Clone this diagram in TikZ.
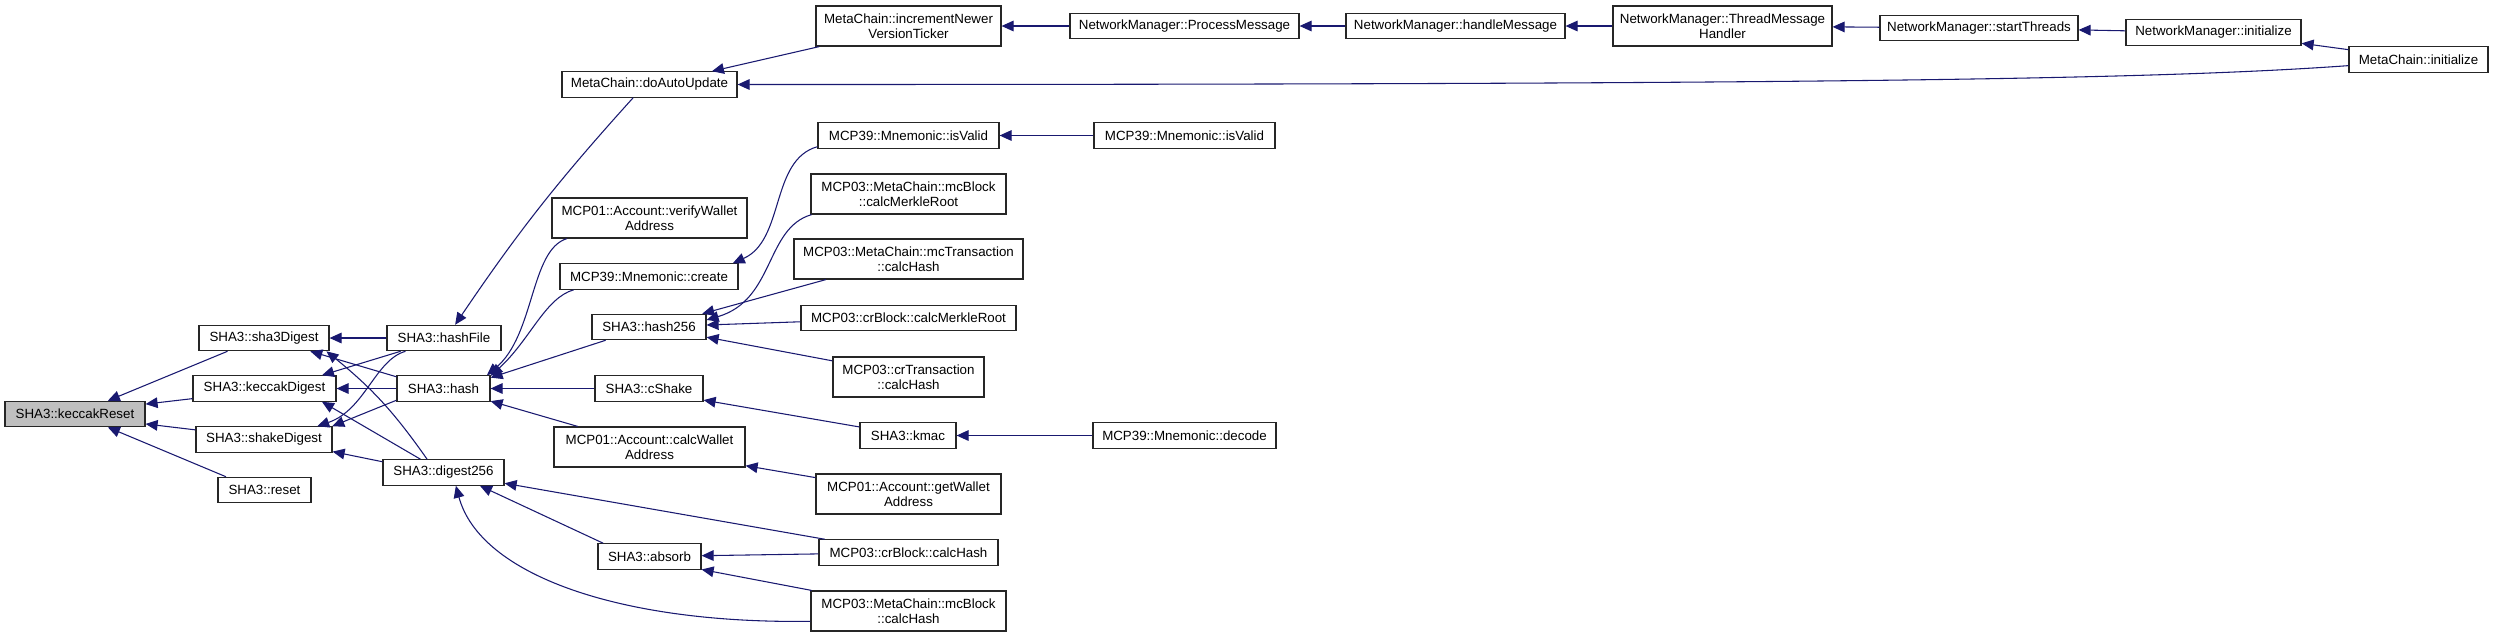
\documentclass[tikz,border=0pt]{standalone}
\usepackage{fontspec}
\setmainfont{Liberation Sans}
\usetikzlibrary{arrows.meta}
\definecolor{edgeblue}{HTML}{191970}

\tikzset{
    fn/.style={draw=black!85, line width=0.9pt, fill=white, inner sep=1pt, align=center},
    lineone/.style={minimum height=19pt},
    linetwo/.style={minimum height=30pt},
    call/.style={draw=edgeblue, line width=0.8pt, -{Triangle[length=9pt, width=8pt]}}
}

\begin{document}
\begin{tikzpicture}[x=0.75pt, y=-0.75pt,
    every node/.style={font=\fontsize{10}{11.5}\selectfont}]

    % Keep the page the size of the original graph
    \useasboundingbox (0,0) rectangle (2493,637);

    % Column 0: the function itself
    \node[fn, fill=gray!50, lineone, minimum width=105pt] (keccakReset) at (75,414) {SHA3::keccakReset};

    % Column 1
    \node[fn, lineone, minimum width=97.5pt] (sha3Digest) at (264,338) {SHA3::sha3Digest};
    \node[fn, lineone, minimum width=107.25pt] (keccakDigest) at (264.5,388.5) {SHA3::keccakDigest};
    \node[fn, lineone, minimum width=102pt] (shakeDigest) at (264,439.5) {SHA3::shakeDigest};
    \node[fn, lineone, minimum width=69.75pt] (reset) at (264.5,490) {SHA3::reset};

    % Column 2
    \node[fn, lineone, minimum width=85.5pt] (hashFile) at (444,338) {SHA3::hashFile};
    \node[fn, lineone, minimum width=69.75pt] (hash) at (443.5,388.5) {SHA3::hash};
    \node[fn, lineone, minimum width=90.75pt] (digest) at (443.5,472.5) {SHA3::digest256};

    % Column 3
    \node[fn, lineone, minimum width=131.25pt] (autoUpdate) at (649.5,84.5) {MetaChain::doAutoUpdate};
    \node[fn, linetwo, minimum width=146.25pt] (verifyAddr) at (649.5,218) {MCP01::Account::verifyWallet\\Address};
    \node[fn, lineone, minimum width=133.5pt] (create) at (649,276.5) {MCP39::Mnemonic::create};
    \node[fn, lineone, minimum width=85.5pt] (hash256) at (649,327) {SHA3::hash256};
    \node[fn, lineone, minimum width=81pt] (cShake) at (649,388.5) {SHA3::cShake};
    \node[fn, linetwo, minimum width=143.25pt] (calcAddr) at (649.5,447) {MCP01::Account::calcWallet\\Address};
    \node[fn, lineone, minimum width=77.25pt] (absorb) at (649.5,556.5) {SHA3::absorb};

    % Column 4
    \node[fn, linetwo, minimum width=138.75pt] (incNewer) at (908.5,26) {MetaChain::incrementNewer\\VersionTicker};
    \node[fn, lineone, minimum width=135.75pt] (isValidA) at (908.5,135.5) {MCP39::Mnemonic::isValid};
    \node[fn, linetwo, minimum width=146.25pt] (mcMerkle) at (908.5,194) {MCP03::MetaChain::mcBlock\\::calcMerkleRoot};
    \node[fn, linetwo, minimum width=171.75pt] (mcTrans) at (908.5,259) {MCP03::MetaChain::mcTransaction\\::calcHash};
    \node[fn, lineone, minimum width=161.25pt] (crMerkle) at (908.5,318) {MCP03::crBlock::calcMerkleRoot};
    \node[fn, linetwo, minimum width=113.25pt] (crTrans) at (908.5,377) {MCP03::crTransaction\\::calcHash};
    \node[fn, lineone, minimum width=72pt] (kmac) at (908,435.5) {SHA3::kmac};
    \node[fn, linetwo, minimum width=138.75pt] (getAddr) at (908.5,494) {MCP01::Account::getWallet\\Address};
    \node[fn, lineone, minimum width=134.25pt] (crHash) at (908.5,552.5) {MCP03::crBlock::calcHash};
    \node[fn, linetwo, minimum width=146.25pt] (mcHash) at (908.5,611) {MCP03::MetaChain::mcBlock\\::calcHash};

    % Column 5
    \node[fn, lineone, minimum width=171.75pt] (procMsg) at (1184.5,26) {NetworkManager::ProcessMessage};
    \node[fn, lineone, minimum width=135.75pt] (isValidB) at (1184.5,135.5) {MCP39::Mnemonic::isValid};
    \node[fn, lineone, minimum width=137.25pt] (decode) at (1184.5,435.5) {MCP39::Mnemonic::decode};

    % Columns 6 to 9
    \node[fn, lineone, minimum width=164.25pt] (handleMsg) at (1455.5,26) {NetworkManager::handleMessage};
    \node[fn, linetwo, minimum width=164.25pt] (threadMsg) at (1722.5,26) {NetworkManager::ThreadMessage\\Handler};
    \node[fn, lineone, minimum width=148.5pt] (startThreads) at (1979,28) {NetworkManager::startThreads};
    \node[fn, lineone, minimum width=131.25pt] (nmInit) at (2213.5,32.5) {NetworkManager::initialize};
    \node[fn, lineone, minimum width=104.25pt] (mcInit) at (2418.5,59.5) {MetaChain::initialize};

    % Callers of keccakReset
    \draw[call] (sha3Digest.200) -- (keccakReset.22);
    \draw[call] (keccakDigest.188) -- (keccakReset.8);
    \draw[call] (shakeDigest.172) -- (keccakReset.352);
    \draw[call] (reset.161) -- (keccakReset.338);

    % Callers of the digest functions
    \draw[call] (hashFile) -- (sha3Digest);
    \draw[call] (hash.166) -- (sha3Digest.344);
    \draw[call] (digest.141) to[bend right=8] (sha3Digest.348);
    \draw[call] (hashFile.197) -- (keccakDigest.13);
    \draw[call] (hash) -- (keccakDigest);
    \draw[call] (digest.150) -- (keccakDigest.347);
    \draw[call] (hashFile.199) .. controls (375,360) and (365,410) .. (shakeDigest.14);
    \draw[call] (hash.194) -- (shakeDigest.11);
    \draw[call] (digest.170) -- (shakeDigest.350);

    % Callers of hashFile, hash and digest256
    \draw[call] (autoUpdate.219) to[bend right=4] (hashFile.50);
    \draw[call] (verifyAddr.194) .. controls (530,250) and (535,335) .. (hash.17);
    \draw[call] (create.190) .. controls (545,298) and (530,340) .. (hash.15);
    \draw[call] (hash256.197) -- (hash.13);
    \draw[call] (cShake) -- (hash);
    \draw[call] (calcAddr.164) -- (hash.345);
    \draw[call] (crHash.171) -- (digest.350);
    \draw[call] (absorb.164) -- (digest.340);
    \draw[call] (mcHash.186) .. controls (620,624) and (480,575) .. (digest.313);

    % Third level
    \draw[call] (incNewer.193) -- (autoUpdate.12);
    \draw[call] (mcInit.185) .. controls (2150,80) and (1800,84.5) .. (autoUpdate.east);
    \draw[call] (isValidA.187) .. controls (770,160) and (785,240) .. (create.9.5);
    \draw[call] (mcMerkle.192) .. controls (765,228) and (775,300) .. (hash256.7);
    \draw[call] (mcTrans.194) -- (hash256.14);
    \draw[call] (crMerkle.182) -- (hash256.2);
    \draw[call] (crTrans.168) -- (hash256.350);
    \draw[call] (kmac.170) -- (cShake.348);
    \draw[call] (getAddr.170) -- (calcAddr.349);
    \draw[call] (crHash) -- (absorb);
    \draw[call] (mcHash.168) -- (absorb.346);

    % Chain along the top and the short ones
    \draw[call] (procMsg) -- (incNewer);
    \draw[call] (handleMsg) -- (procMsg);
    \draw[call] (threadMsg) -- (handleMsg);
    \draw[call] (startThreads) -- (threadMsg);
    \draw[call] (nmInit) -- (startThreads);
    \draw[call] (mcInit.172) -- (nmInit.353);
    \draw[call] (isValidB) -- (isValidA);
    \draw[call] (decode) -- (kmac);

\end{tikzpicture}
\end{document}
